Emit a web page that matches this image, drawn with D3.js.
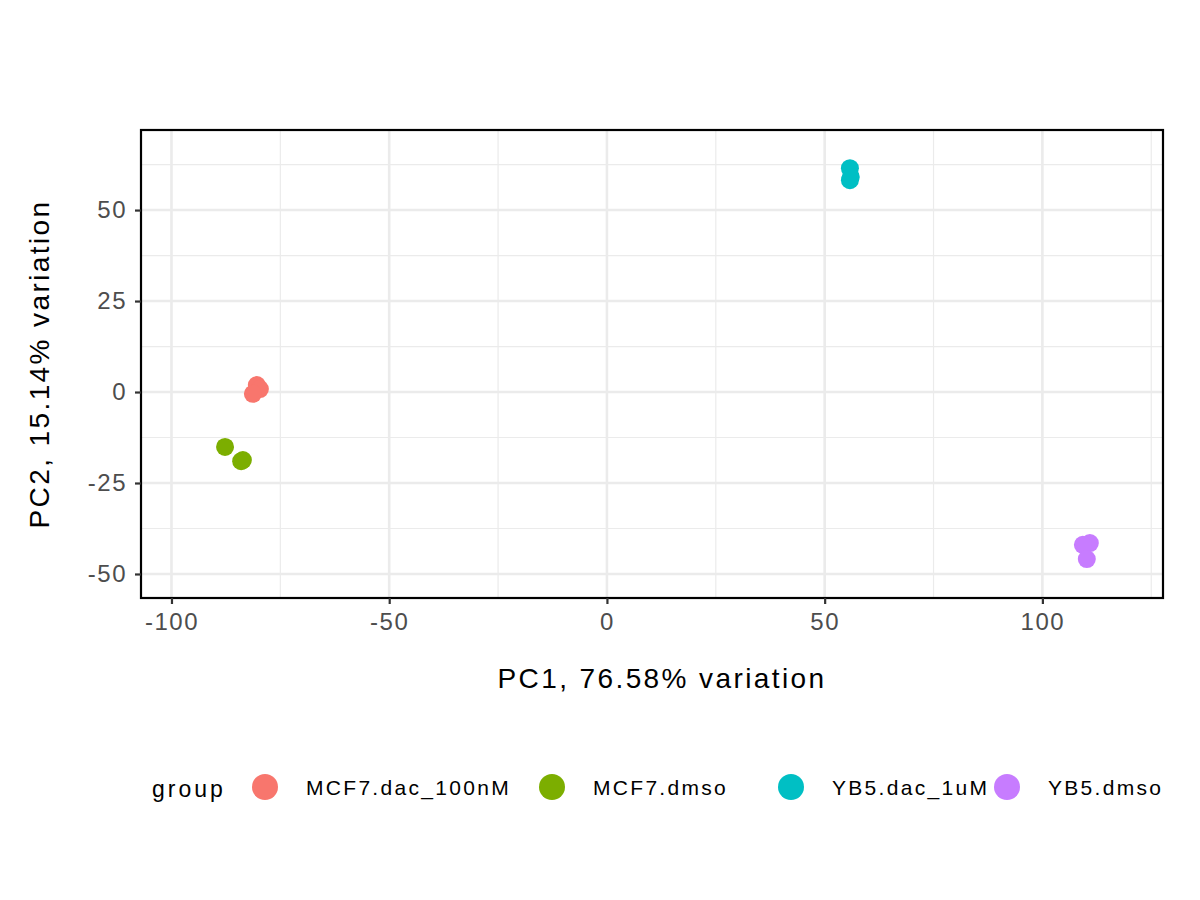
<!DOCTYPE html>
<html><head><meta charset="utf-8">
<script src="https://cdn.jsdelivr.net/npm/d3@7"></script>
<style>body{margin:0;background:#fff}text{font-family:"Liberation Sans",Arial,sans-serif}</style>
</head><body><svg id="chart" width="1200" height="900"></svg>
<script>
var groups = ['MCF7.dac_100nM', 'MCF7.dmso', 'YB5.dac_1uM', 'YB5.dmso'],
  colors = ['#F8766D', '#7CAE00', '#00BFC4', '#C77CFF'],
  pc1 = [-80.4, -79.7, -81.3, -87.7, -84.0, -83.6, 55.8, 55.8, 56.0, 110.9, 109.3, 110.2],
  pc2 = [1.9, 0.8, -0.5, -15.1, -19.0, -18.7, 61.5, 58.2, 59.1, -41.5, -42.0, -45.9],
  grp = [0, 0, 0, 1, 1, 1, 2, 2, 2, 3, 3, 3],
  xTicks = [-100, -50, 0, 50, 100],
  yTicks = [-50, -25, 0, 25, 50];

var m = {left: 141, right: 1163, top: 130, bottom: 598}
var svg = d3.select('#chart')
var x = d3.scaleLinear().domain([-107, 127.7]).range([m.left, m.right])
var y = d3.scaleLinear().domain([-56.6, 72]).range([m.bottom, m.top])

// grid
var xMinor = [-125, -75, -25, 25, 75, 125], yMinor = [-37.5, -12.5, 12.5, 37.5, 62.5]
var g = svg.append('g')
g.selectAll('.xm').data(xMinor.filter(function(d){return x(d) > m.left && x(d) < m.right})).enter().append('line')
  .attr('x1', x).attr('x2', x).attr('y1', m.top).attr('y2', m.bottom).attr('stroke', '#ebebeb').attr('stroke-width', 1.2)
g.selectAll('.ym').data(yMinor).enter().append('line')
  .attr('y1', y).attr('y2', y).attr('x1', m.left).attr('x2', m.right).attr('stroke', '#ebebeb').attr('stroke-width', 1.2)
g.selectAll('.xM').data(xTicks).enter().append('line')
  .attr('x1', x).attr('x2', x).attr('y1', m.top).attr('y2', m.bottom).attr('stroke', '#ebebeb').attr('stroke-width', 2.6)
g.selectAll('.yM').data(yTicks).enter().append('line')
  .attr('y1', y).attr('y2', y).attr('x1', m.left).attr('x2', m.right).attr('stroke', '#ebebeb').attr('stroke-width', 2.6)

// points
svg.selectAll('circle.pt').data(pc1).enter().append('circle')
  .attr('cx', function(d){return x(d)})
  .attr('cy', function(d, i){return y(pc2[i])})
  .attr('r', 9)
  .attr('fill', function(d, i){return colors[grp[i]]})

svg.append('rect').attr('x', m.left).attr('y', m.top).attr('width', m.right - m.left).attr('height', m.bottom - m.top)
  .attr('fill', 'none').attr('stroke', '#000').attr('stroke-width', 2.2)

// axes
var fmt = function(d){return String(d)}
var xa = svg.append('g').attr('transform', 'translate(0,' + m.bottom + ')')
  .call(d3.axisBottom(x).tickValues(xTicks).tickFormat(fmt).tickSize(6).tickPadding(6))
var ya = svg.append('g').attr('transform', 'translate(' + m.left + ',0)')
  .call(d3.axisLeft(y).tickValues(yTicks).tickFormat(fmt).tickSize(6).tickPadding(8))
;[xa, ya].forEach(function(a){
  a.select('.domain').remove()
  a.selectAll('line').attr('stroke', '#333').attr('stroke-width', 2.2)
  a.selectAll('text').attr('fill', '#4d4d4d').style('font-size', '24px').style('letter-spacing', '1.5px')
})
xa.selectAll('text').attr('dy', '0.85em')

svg.append('text').attr('x', (m.left + m.right) / 2 + 10).attr('y', 688).attr('text-anchor', 'middle')
  .style('font-size', '28px').style('letter-spacing', '2.4px').text('PC1, 76.58% variation')
svg.append('text').attr('transform', 'translate(49,' + (m.top + m.bottom) / 2 + ') rotate(-90)').attr('text-anchor', 'middle')
  .style('font-size', '28px').style('letter-spacing', '2.4px').text('PC2, 15.14% variation')

// legend
var lx = [265, 552, 791, 1007]
svg.append('text').attr('x', 152).attr('y', 797).style('font-size', '23px').style('letter-spacing', '3px').text('group')
var lg = svg.selectAll('.lg').data(groups).enter().append('g')
  .attr('transform', function(d, i){return 'translate(' + lx[i] + ',787)'})
lg.append('circle').attr('r', 13).attr('fill', function(d, i){return colors[i]})
lg.append('text').attr('x', 41).attr('y', 8).style('font-size', '21px').style('letter-spacing', '2.3px').text(function(d){return d})
</script></body></html>
